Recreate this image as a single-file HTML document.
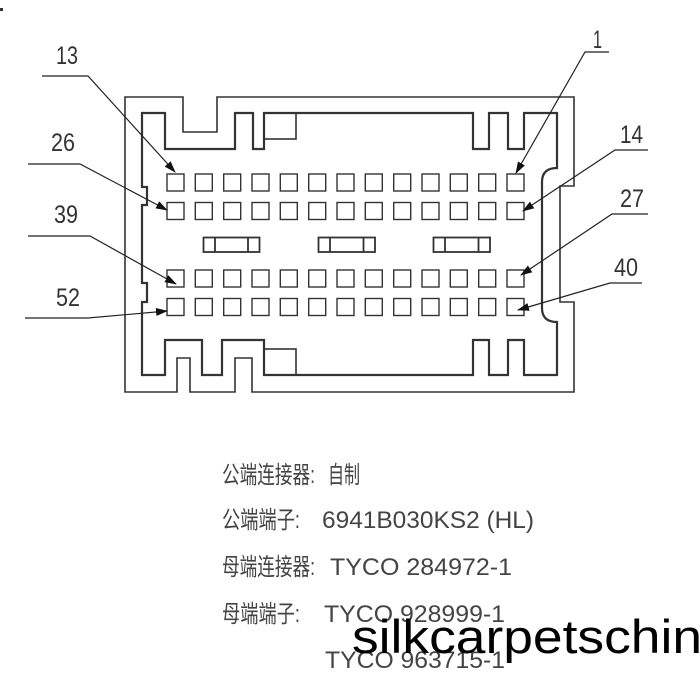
<!DOCTYPE html>
<html><head><meta charset="utf-8"><style>
html,body{margin:0;padding:0;background:#fff;width:700px;height:685px;overflow:hidden}
svg{display:block}
.l{font-family:"Liberation Sans","Noto Sans CJK SC",sans-serif;fill:#333;font-size:25px}
.t{font-family:"Liberation Sans","Noto Sans CJK SC",sans-serif;fill:#444;font-size:24px}
</style></head><body>
<svg width="700" height="685" viewBox="0 0 700 685" xmlns="http://www.w3.org/2000/svg">
<defs><marker id="a" markerWidth="12" markerHeight="8" refX="11" refY="4" orient="auto" markerUnits="userSpaceOnUse"><path d="M0,0 L12,4 L0,8 Z" fill="#111"/></marker></defs>
<rect x="0" y="8" width="3" height="3" fill="#333"/>
<g fill="none" stroke="#333" stroke-width="1.6">
<path d="M125,97 H183 V132 H217 V97 H574 V186 H560 V302 H574 V392 H252 V358 H235 V392 H190 V358 H177 V392 H125 Z"/>
<path stroke-width="2.2" d="M142,113 H165 V149 H235 V113 H253 V149 H264 V113 H473 V149 H489 V113 H508 V149 H524 V113 H557 V168 Q542,168 542,182 V308 Q542,322 557,322 V375 H524 V340 H508 V375 H489 V340 H473 V375 H264 V340 H222 V375 H202 V340 H165 V375 H142 V302 H147 V283 H142 V205 H147 V187 H142 Z"/>
<rect x="264" y="113" width="32" height="26"/>
<rect x="264" y="349" width="32" height="26"/>
</g>
<g fill="none" stroke="#333" stroke-width="1.4">
<g id="row">
<rect x="167" y="174" width="17" height="17"/><rect x="195.3" y="174" width="17" height="17"/><rect x="223.7" y="174" width="17" height="17"/><rect x="252" y="174" width="17" height="17"/><rect x="280.3" y="174" width="17" height="17"/><rect x="308.7" y="174" width="17" height="17"/><rect x="337" y="174" width="17" height="17"/><rect x="365.3" y="174" width="17" height="17"/><rect x="393.7" y="174" width="17" height="17"/><rect x="422" y="174" width="17" height="17"/><rect x="450.3" y="174" width="17" height="17"/><rect x="478.7" y="174" width="17" height="17"/><rect x="507" y="174" width="17" height="17"/>
</g>
<use href="#row" y="28.5"/><use href="#row" y="96"/><use href="#row" y="124.5"/>
<g stroke-width="1.8">
<rect x="203.5" y="237.5" width="56" height="14.5"/><path d="M215,237.5 V252 M248,237.5 V252"/>
<rect x="318.5" y="237.5" width="56.5" height="14.5"/><path d="M330,237.5 V252 M363.5,237.5 V252"/>
<rect x="433.5" y="237.5" width="56.5" height="14.5"/><path d="M445,237.5 V252 M478.5,237.5 V252"/>
</g>
</g>
<g fill="none" stroke="#222" stroke-width="1.2">
<path d="M42,76 H88 L175,172" marker-end="url(#a)"/>
<path d="M28,164 H80 L167,210" marker-end="url(#a)"/>
<path d="M28,236 H90 L176,284" marker-end="url(#a)"/>
<path d="M25,318 H88 L167,311" marker-end="url(#a)"/>
<path d="M609,52 H585 L516,173" marker-end="url(#a)"/>
<path d="M648,150 H615 L523,211" marker-end="url(#a)"/>
<path d="M648,214 H612 L521,275" marker-end="url(#a)"/>
<path d="M642,283 H610 L518,310" marker-end="url(#a)"/>
</g>
<g class="l">
<text x="56" y="64" textLength="22" lengthAdjust="spacingAndGlyphs">13</text>
<text x="51" y="151" textLength="24" lengthAdjust="spacingAndGlyphs">26</text>
<text x="54" y="223" textLength="24" lengthAdjust="spacingAndGlyphs">39</text>
<text x="56" y="306" textLength="24" lengthAdjust="spacingAndGlyphs">52</text>
<text x="593" y="48" textLength="9" lengthAdjust="spacingAndGlyphs">1</text>
<text x="620" y="143" textLength="23" lengthAdjust="spacingAndGlyphs">14</text>
<text x="620" y="207" textLength="24" lengthAdjust="spacingAndGlyphs">27</text>
<text x="614" y="276" textLength="24" lengthAdjust="spacingAndGlyphs">40</text>
</g>
<g class="t">
<text x="222" y="483" textLength="93" lengthAdjust="spacingAndGlyphs">公端连接器:</text>
<text x="328" y="483" textLength="32" lengthAdjust="spacingAndGlyphs">自制</text>
<text x="222" y="528" textLength="78" lengthAdjust="spacingAndGlyphs">公端端子:</text>
<text x="322" y="528" textLength="212" lengthAdjust="spacingAndGlyphs">6941B030KS2 (HL)</text>
<text x="222" y="575" textLength="93" lengthAdjust="spacingAndGlyphs">母端连接器:</text>
<text x="330" y="575" textLength="182" lengthAdjust="spacingAndGlyphs">TYCO 284972-1</text>
<text x="222" y="622" textLength="78" lengthAdjust="spacingAndGlyphs">母端端子:</text>
<text x="324" y="622" textLength="181" lengthAdjust="spacingAndGlyphs">TYCO 928999-1</text>
<text x="325" y="668" textLength="180" lengthAdjust="spacingAndGlyphs">TYCO 963715-1</text>
</g>
<text x="352" y="653" textLength="350" lengthAdjust="spacingAndGlyphs" style="font-family:'Liberation Sans',sans-serif;font-size:47px;fill:#000">silkcarpetschin</text>
</svg>
</body></html>
